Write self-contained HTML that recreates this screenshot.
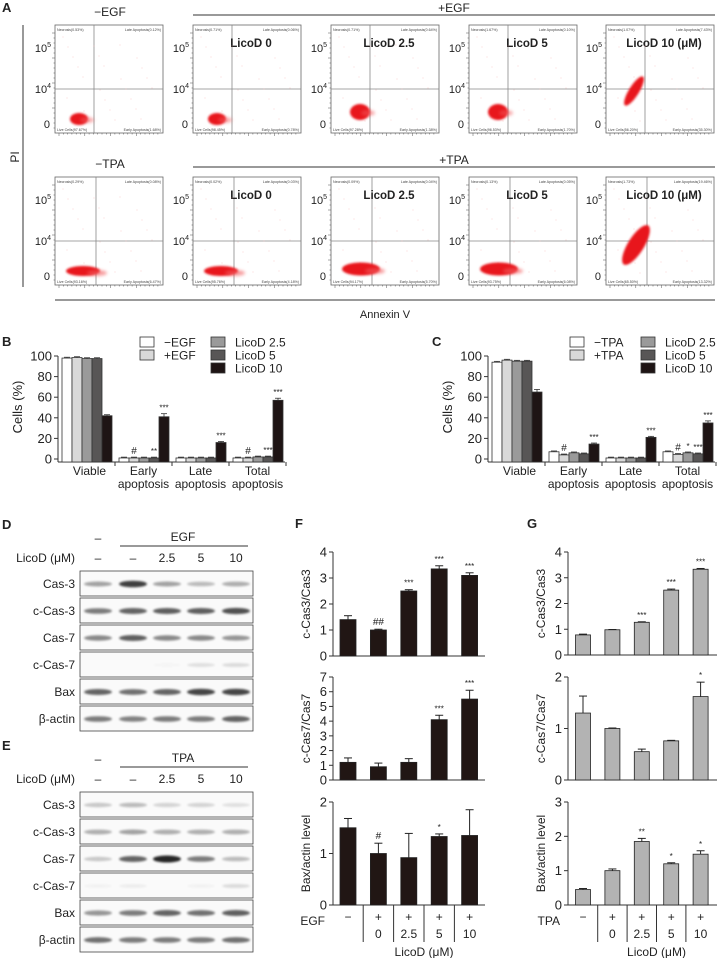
<!DOCTYPE html>
<html><head><meta charset="utf-8"><style>
html,body{margin:0;padding:0;background:#fff}
svg{display:block;font-family:"Liberation Sans",Arial,sans-serif}
</style></head><body>
<svg id="fig" width="717" height="958" viewBox="0 0 717 958" xmlns="http://www.w3.org/2000/svg">
<defs>
<filter id="blur1" x="-50%" y="-50%" width="200%" height="200%"><feGaussianBlur stdDeviation="1.6"/></filter>
<filter id="blur2" x="-50%" y="-50%" width="200%" height="200%"><feGaussianBlur stdDeviation="1"/></filter>
</defs>
<g id="panelA"></g>
<g id="panelB"></g>
<g id="panelC"></g>
<g id="panelDE"></g>
<g id="panelF"></g>
<g id="panelG"></g>
</svg>
<script>
// ---------- data ----------
const apoCategories = ["Viable","Early|apoptosis","Late|apoptosis","Total|apoptosis"];
const bSeriesNames = ["\u2212EGF","+EGF","LicoD 2.5","LicoD 5","LicoD 10"];
const bMinusEGF = [98, 1, 1, 1];
const bPlusEGF = [98.5, 1, 1, 1];
const bLicoD25 = [97.5, 1, 1, 2];
const bLicoD5 = [97.5, 1, 1, 2];
const bLicoD10 = [42, 41, 16, 57];
const bErr10 = [1, 3, 1, 2];
const bAnnot = [["","","","",""],["","#","","**","***"],["","","","","***"],["","#","","***","***"]];
const cSeriesNames = ["\u2212TPA","+TPA","LicoD 2.5","LicoD 5","LicoD 10"];
const cMinusTPA = [94, 7, 1, 7];
const cPlusTPA = [96, 4, 1, 4.5];
const cLicoD25 = [95, 6, 1, 6];
const cLicoD5 = [95, 5, 1, 5];
const cLicoD10 = [65, 14.5, 21, 35];
const cErr10 = [2.5, 1, 1, 2];
const cAnnot = [["","","","",""],["","#","","","***"],["","","","","***"],["","#","*","***","***"]];
const cellTicks = [0,20,40,60,80,100];

const fCas3 = [1.4, 1.0, 2.5, 3.35, 3.1];
const fCas3Err = [0.15, 0.03, 0.05, 0.12, 0.1];
const fCas3Annot = ["","##","***","***","***"];
const fCas7 = [1.2, 0.9, 1.2, 4.1, 5.5];
const fCas7Err = [0.3, 0.25, 0.25, 0.3, 0.6];
const fCas7Annot = ["","","","***","***"];
const fBax = [1.5, 1.0, 0.92, 1.33, 1.35];
const fBaxErr = [0.18, 0.2, 0.47, 0.05, 0.5];
const fBaxAnnot = ["","#","","*",""];
const gCas3 = [0.78, 0.98, 1.27, 2.52, 3.33];
const gCas3Err = [0.03, 0.01, 0.02, 0.04, 0.03];
const gCas3Annot = ["","","***","***","***"];
const gCas7 = [1.3, 1.0, 0.55, 0.76, 1.62];
const gCas7Err = [0.33, 0.01, 0.05, 0.01, 0.28];
const gCas7Annot = ["","","","","*"];
const gBax = [0.45, 1.0, 1.85, 1.2, 1.48];
const gBaxErr = [0.03, 0.05, 0.09, 0.03, 0.1];
const gBaxAnnot = ["","","**","*","*"];
const licoDoses = ["", "0", "2.5", "5", "10"];
const stimSigns = ["\u2212","+","+","+","+"];

const flowRow1 = [["0.53","0.12","97.67","1.68"],["0.71","0.06","98.45","0.78"],["0.71","0.64","97.28","1.38"],["1.67","0.10","96.53","1.70"],["1.07","7.43","56.20","35.30"]];
const flowRow2 = [["0.29","0.08","93.16","6.47"],["0.02","0.03","95.76","4.18"],["0.09","0.04","94.17","5.70"],["0.13","0.05","93.75","6.08"],["1.73","19.46","65.50","13.32"]];
const flowTitles = ["","LicoD 0","LicoD 2.5","LicoD 5","LicoD 10 (\u03bcM)"];

const blotRows = ["Cas-3","c-Cas-3","Cas-7","c-Cas-7","Bax","\u03b2-actin"];
const dBands = [[.35,.75,.35,.25,.3],[.5,.6,.62,.62,.68],[.45,.62,.45,.45,.4],[0,0,.02,.1,.12],[.6,.55,.6,.72,.72],[.5,.48,.5,.5,.6]];
const eBands = [[.2,.25,.15,.15,.1],[.3,.35,.3,.3,.3],[.2,.6,.85,.5,.25],[.03,.05,0,.03,.12],[.4,.5,.6,.55,.62],[.55,.5,.5,.5,.55]];

// ---------- helpers ----------
const NS = "http://www.w3.org/2000/svg";
function mk(parent, tag, attrs, text){
  const e = document.createElementNS(NS, tag);
  for (const k in attrs) e.setAttribute(k, attrs[k]);
  if (text !== undefined) e.textContent = text;
  parent.appendChild(e);
  return e;
}
function label(parent, x, y, txt, size, anchor, weight){
  const t = mk(parent,"text",{x:x,y:y,"font-size":size,"text-anchor":anchor||"start","font-weight":weight||"normal",fill:"#222"},txt);
  return t;
}

// ---------- Panel A ----------
(function(){
  const g = document.getElementById("panelA");
  const pl = label(g,2,12,"A",13,"start","bold");
  
  
  const plotX = [55,193,331,469,606];
  const rows = [{y:25, data:flowRow1, head:"\u2212EGF", plus:"+EGF", vline:39}, {y:177, data:flowRow2, head:"\u2212TPA", plus:"+TPA", vline:41}];
  mk(g,"line",{x1:23,y1:25,x2:23,y2:287,stroke:"#333","stroke-width":1});
  const pi = mk(g,"text",{x:19,y:157,"font-size":12,"text-anchor":"middle",transform:"rotate(-90 19 157)",fill:"#222"},"PI");
  
  
  mk(g,"line",{x1:55,y1:300,x2:715,y2:300,stroke:"#333","stroke-width":1});
  const ax = label(g,385,318,"Annexin V",11,"middle");
  
  
  rows.forEach((r,ri)=>{
    label(g,110,r.y-9,r.head,12,"middle");
    mk(g,"line",{x1:193,y1:r.y-10,x2:715,y2:r.y-10,stroke:"#333","stroke-width":1});
    label(g,454,r.y-13,r.plus,12,"middle");
    plotX.forEach((px,pi2)=>{
      const pg = mk(g,"g",{});
      
      
      const W=108,H=108,y=r.y;
      mk(pg,"rect",{x:px,y:y,width:W,height:H,fill:"#fff",stroke:"#666","stroke-width":0.8});
      mk(pg,"line",{x1:px,y1:y+64,x2:px+W,y2:y+64,stroke:"#888","stroke-width":0.8});
      mk(pg,"line",{x1:px+r.vline,y1:y,x2:px+r.vline,y2:y+H,stroke:"#888","stroke-width":0.8});
      for(let k=0;k<24;k++){const tx=px+4+k*4.3;mk(pg,"line",{x1:tx,y1:y+H,x2:tx,y2:y+H+(k%6==0?3:1.5),stroke:"#555","stroke-width":0.5});}
      for(let k=0;k<20;k++){const ty=y+8+k*5;mk(pg,"line",{x1:px-(k%5==0?3:1.5),y1:ty,x2:px,y2:ty,stroke:"#555","stroke-width":0.5});}
      const t5=mk(pg,"text",{x:px-4,y:y+27,"font-size":11,"text-anchor":"end",fill:"#222"});
      mk(t5,"tspan",{},"10"); mk(t5,"tspan",{"font-size":7,dy:-5},"5");
      const t4=mk(pg,"text",{x:px-4,y:y+68,"font-size":11,"text-anchor":"end",fill:"#222"});
      mk(t4,"tspan",{},"10"); mk(t4,"tspan",{"font-size":7,dy:-5},"4");
      label(pg,px-5,y+103,"0",11,"end");
      const d=r.data[pi2];
      mk(pg,"text",{x:px+2,y:y+6,"font-size":3.6,fill:"#444"},"Necrosis("+d[0]+"%)");
      mk(pg,"text",{x:px+W-2,y:y+6,"font-size":3.6,fill:"#444","text-anchor":"end"},"Late Apoptosis("+d[1]+"%)");
      mk(pg,"text",{x:px+2,y:y+H-2,"font-size":3.6,fill:"#444"},"Live Cells("+d[2]+"%)");
      mk(pg,"text",{x:px+W-2,y:y+H-2,"font-size":3.6,fill:"#444","text-anchor":"end"},"Early Apoptosis("+d[3]+"%)");
      if(flowTitles[pi2]) label(pg,px+W/2+4,y+22,flowTitles[pi2],11.5,"middle","bold");
      for(let k=0;k<25;k++){const sx=px+8+((k*37)%90), sy=y+12+((k*53)%85);mk(pg,"circle",{cx:sx,cy:sy,r:0.4,fill:"#f4a0a0"});}
      if(pi2<4 && ri==0){
        const cx = px + (pi2>=2?29:24), cy = y + (pi2>=2?87:94);
        const rx = pi2>=2?10:9, ry = pi2>=2?8:6;
        mk(pg,"ellipse",{cx:cx,cy:cy,rx:rx,ry:ry,fill:"#e8141a",filter:"url(#blur2)"});
        mk(pg,"ellipse",{cx:cx+8,cy:cy+1,rx:7,ry:3,fill:"#f25b5e",opacity:0.5,filter:"url(#blur1)"});
      } else if(pi2<4){
        const big = pi2>=2;
        const cx = px + (big?30:28), cy = y + (big?92:94);
        mk(pg,"ellipse",{cx:cx,cy:cy,rx:big?19:17,ry:big?6.5:5,fill:"#e8141a",filter:"url(#blur2)"});
        mk(pg,"ellipse",{cx:cx+14,cy:cy+2,rx:10,ry:3,fill:"#f25b5e",opacity:0.6,filter:"url(#blur1)"});
      } else {
        const cx = px + (ri==0?28:30), cy = y + (ri==0?66:68);
        mk(pg,"ellipse",{cx:cx,cy:cy,rx:ri==0?17:23,ry:ri==0?5:8,fill:"#e8141a",filter:"url(#blur2)",transform:"rotate(-58 "+cx+" "+cy+")"});
      }
    });
  });
})();

// ---------- grouped bar charts B, C ----------
function groupedChart(gid, letter, letterX, axX, series, names, err10, annot){
  const g = document.getElementById(gid);
  const pl = label(g,letterX,346,letter,13,"start","bold");
  
  
  const y0=459, yTop=356, yMax=100;
  const yS = v => y0 - (v/yMax)*(y0-yTop);
  const gw = 57, bw = 10;
  const xEnd = axX + gw*4 - 1;
  mk(g,"line",{x1:axX,y1:yTop,x2:axX,y2:y0+3,stroke:"#333","stroke-width":1});
  mk(g,"line",{x1:axX,y1:y0+3,x2:xEnd,y2:y0+3,stroke:"#333","stroke-width":1});
  cellTicks.forEach(t=>{
    mk(g,"line",{x1:axX-4,y1:yS(t),x2:axX,y2:yS(t),stroke:"#333","stroke-width":1});
    const tl = label(g,axX-6,yS(t)+4.5,String(t),13,"end");
    
    
  });
  const yt = mk(g,"text",{x:axX-36,y:407,"font-size":13,"text-anchor":"middle",transform:"rotate(-90 "+(axX-36)+" 407)",fill:"#222"},"Cells (%)");
  
  
  const fills = ["#ffffff","#d9d9d9","#9a9a9a","#585656","#1e1414"];
  apoCategories.forEach((c,ci)=>{
    const gx = axX + ci*gw;
    mk(g,"line",{x1:gx+gw,y1:y0+3,x2:gx+gw,y2:y0+7,stroke:"#333","stroke-width":1});
    const parts = c.split("|");
    parts.forEach((p,pi)=>label(g,gx+gw/2+(ci==0?3:0),y0+16+pi*13,p,12,"middle"));
    series.forEach((s,si)=>{
      const bx = gx + 4 + si*bw, v = s[ci];
      const bar = mk(g,"rect",{x:bx,y:yS(v),width:bw,height:y0-yS(v)+3,fill:fills[si],stroke:"#333","stroke-width":0.8});
      
      
      const e = si==4 ? err10[ci] : 0.8;
      mk(g,"line",{x1:bx+bw/2,y1:yS(v),x2:bx+bw/2,y2:yS(v+e),stroke:"#333","stroke-width":0.8});
      mk(g,"line",{x1:bx+2,y1:yS(v+e),x2:bx+bw-2,y2:yS(v+e),stroke:"#333","stroke-width":0.8});
      const a = annot[ci][si];
      if(a) label(g,bx+bw/2,yS(v+e)-3,a,a[0]=="#"?10:8,"middle");
    });
  });
  const lx1 = axX+82, lx2 = axX+153;
  names.forEach((n,i)=>{
    const lx = i<2?lx1:lx2, ly = 342 + (i<2?i:i-2)*13;
    const le = mk(g,"g",{});
    
    
    mk(le,"rect",{x:lx,y:ly-5,width:14,height:10,fill:fills[i],stroke:"#333","stroke-width":0.8});
    label(le,lx+24,ly+4.5,n,12,"start");
  });
}
groupedChart("panelB","B",2,58,[bMinusEGF,bPlusEGF,bLicoD25,bLicoD5,bLicoD10],bSeriesNames,bErr10,bAnnot);
groupedChart("panelC","C",432,488,[cMinusTPA,cPlusTPA,cLicoD25,cLicoD5,cLicoD10],cSeriesNames,cErr10,cAnnot);

// ---------- Western blots D, E ----------
function blot(letter, ly, stim, bands){
  const g = document.getElementById("panelDE");
  const pl = label(g,2,ly,letter,13,"start","bold");
  
  
  const laneX=[98,133,167,201,236];
  const top = ly+12;
  label(g,98,top+1,"\u2013",12,"middle");
  label(g,183,top,stim,12,"middle");
  mk(g,"line",{x1:120,y1:top+5,x2:248,y2:top+5,stroke:"#333","stroke-width":1});
  label(g,75,top+21,"LicoD (\u03bcM)",12,"end");
  ["\u2013","\u2013","2.5","5","10"].forEach((v,i)=>label(g,laneX[i],top+21,v,12,"middle"));
  const bt = top+30;
  blotRows.forEach((r,ri)=>{
    const y = bt + ri*27;
    const rg = mk(g,"g",{});
    
    
    mk(rg,"rect",{x:80,y:y,width:173,height:25,fill:"#fafafa",stroke:"#444","stroke-width":0.8});
    label(rg,75,y+17,r,12,"end");
    bands[ri].forEach((b,li)=>{
      if(b<=0) return;
      mk(rg,"ellipse",{cx:laneX[li],cy:y+13,rx:14,ry:1.8+b*2,fill:"#000",opacity:Math.min(0.95,b),filter:"url(#blur2)"});
    });
  });
}
blot("D",529,"EGF",dBands);
blot("E",750,"TPA",eBands);

// ---------- Bar charts F, G ----------
function simpleBar(g, axX, x0, step, bw, xEnd, yBase, yTopPx, yMax, ticks, vals, errs, annots, fill, title){
  const yS = v => yBase - (v/yMax)*(yBase-yTopPx);
  mk(g,"line",{x1:axX,y1:yTopPx,x2:axX,y2:yBase,stroke:"#333","stroke-width":1});
  mk(g,"line",{x1:axX,y1:yBase,x2:xEnd,y2:yBase,stroke:"#333","stroke-width":1});
  ticks.forEach(t=>{
    mk(g,"line",{x1:axX-4,y1:yS(t),x2:axX,y2:yS(t),stroke:"#333","stroke-width":1});
    label(g,axX-6,yS(t)+4.5,String(t),13,"end");
  });
  const cy=(yBase+yTopPx)/2;
  const yt = mk(g,"text",{x:axX-23,y:cy,"font-size":12,"text-anchor":"middle",transform:"rotate(-90 "+(axX-23)+" "+cy+")",fill:"#222"},title);
  
  
  vals.forEach((v,i)=>{
    const cx = x0 + i*step;
    const bar = mk(g,"rect",{x:cx-bw/2,y:yS(v),width:bw,height:yBase-yS(v),fill:fill,stroke:"#222","stroke-width":0.8});
    
    
    const e=errs[i];
    mk(g,"line",{x1:cx,y1:yS(v),x2:cx,y2:yS(v+e),stroke:"#222","stroke-width":1});
    mk(g,"line",{x1:cx-4,y1:yS(v+e),x2:cx+4,y2:yS(v+e),stroke:"#222","stroke-width":1});
    if(annots[i]) label(g,cx,yS(v+e)-4,annots[i],annots[i][0]=="#"?10:8,"middle");
  });
}
function quantPanel(gid, letter, letterX, axX, x0, step, bw, xEnd, fill, stim, data){
  const g = document.getElementById(gid);
  const pl = label(g,letterX,528,letter,13,"start","bold");
  
  
  data.forEach(d=>{
    const sg = mk(g,"g",{});
    
    
    simpleBar(sg,axX,x0,step,bw,xEnd,d.base,d.top,d.max,d.ticks,d.vals,d.errs,d.ann,fill,d.title);
  });
  label(g,axX-8,925,stim,12,"end");
  for(let i=1;i<5;i++){
    const dx = x0 + (i-0.5)*step;
    mk(g,"line",{x1:dx,y1:905,x2:dx,y2:942,stroke:"#333","stroke-width":1});
  }
  stimSigns.forEach((s,i)=>label(g,x0+i*step,921,s,12,"middle"));
  licoDoses.forEach((s,i)=>{ if(s) label(g,x0+i*step,938,s,12,"middle"); });
  label(g,x0+2.5*step,956,"LicoD (\u03bcM)",12,"middle");
}
quantPanel("panelF","F",295,333,348,30.4,16,485,"#211614","EGF",[
  {name:"f-ccas3-chart",base:656,top:552,max:4,ticks:[0,1,2,3,4],vals:fCas3,errs:fCas3Err,ann:fCas3Annot,title:"c-Cas3/Cas3"},
  {name:"f-ccas7-chart",base:780,top:677,max:7,ticks:[0,1,2,3,4,5,6,7],vals:fCas7,errs:fCas7Err,ann:fCas7Annot,title:"c-Cas7/Cas7"},
  {name:"f-bax-chart",base:905,top:802,max:2,ticks:[0,1,2],vals:fBax,errs:fBaxErr,ann:fBaxAnnot,title:"Bax/actin level"}
]);
quantPanel("panelG","G",527,568,583,29.4,15,717,"#b3b3b3","TPA",[
  {name:"g-ccas3-chart",base:655,top:552,max:4,ticks:[0,1,2,3,4],vals:gCas3,errs:gCas3Err,ann:gCas3Annot,title:"c-Cas3/Cas3"},
  {name:"g-ccas7-chart",base:780,top:677,max:2,ticks:[0,1,2],vals:gCas7,errs:gCas7Err,ann:gCas7Annot,title:"c-Cas7/Cas7"},
  {name:"g-bax-chart",base:905,top:802,max:3,ticks:[0,1,2,3],vals:gBax,errs:gBaxErr,ann:gBaxAnnot,title:"Bax/actin level"}
]);
</script>
</body></html>
